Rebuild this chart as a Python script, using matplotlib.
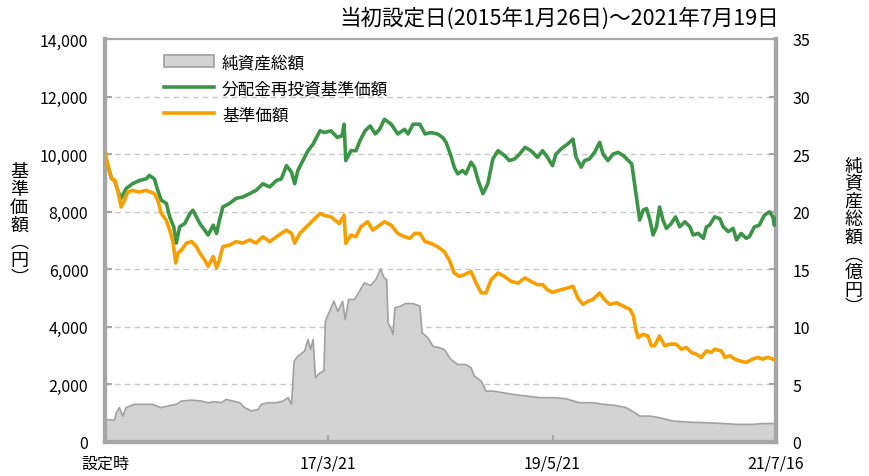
import matplotlib
matplotlib.use("Agg")
import matplotlib.pyplot as plt
from matplotlib.patches import Patch
from matplotlib.lines import Line2D
import pandas as pd

plt.rcParams['font.family'] = ['Noto Sans CJK JP', 'DejaVu Sans']

# data
nav_dates = [
    "2015-01-26", "2015-02-07", "2015-02-18", "2015-03-01", "2015-03-12", "2015-03-24", "2015-04-05", "2015-04-16",
    "2015-05-03", "2015-05-27", "2015-06-20", "2015-07-07", "2015-07-19", "2015-07-31", "2015-08-12", "2015-08-30",
    "2015-09-11", "2015-09-23", "2015-10-02", "2015-10-10", "2015-10-22", "2015-11-09", "2015-11-27", "2015-12-14",
    "2015-12-26", "2016-01-12", "2016-01-24", "2016-02-11", "2016-02-23", "2016-03-04", "2016-03-16", "2016-04-09",
    "2016-05-02", "2016-05-25", "2016-06-18", "2016-07-11", "2016-08-04", "2016-08-28", "2016-09-21", "2016-10-08",
    "2016-10-26", "2016-11-13", "2016-11-24", "2016-12-12", "2017-01-05", "2017-01-28", "2017-02-21", "2017-03-09",
    "2017-04-01", "2017-04-30", "2017-05-17", "2017-05-23", "2017-06-10", "2017-06-28", "2017-07-15", "2017-08-08",
    "2017-08-26", "2017-09-19", "2017-10-06", "2017-10-30", "2017-11-22", "2017-12-16", "2018-01-04", "2018-01-21",
    "2018-02-08", "2018-02-26", "2018-03-19", "2018-04-11", "2018-05-05", "2018-05-22", "2018-06-09", "2018-06-27",
    "2018-07-14", "2018-08-07", "2018-08-25", "2018-09-12", "2018-09-29", "2018-10-17", "2018-11-10", "2018-12-03",
    "2018-12-26", "2019-01-20", "2019-02-13", "2019-03-06", "2019-03-29", "2019-04-16", "2019-05-03", "2019-05-21",
    "2019-06-20", "2019-07-13", "2019-08-01", "2019-08-18", "2019-09-05", "2019-09-23", "2019-10-10", "2019-11-03",
    "2019-11-20", "2019-12-08", "2020-01-02", "2020-01-25", "2020-02-18", "2020-03-01", "2020-03-09", "2020-03-17",
    "2020-04-04", "2020-04-21", "2020-05-03", "2020-05-14", "2020-06-01", "2020-06-19", "2020-07-06", "2020-07-29",
    "2020-08-17", "2020-09-03", "2020-09-21", "2020-10-08", "2020-10-26", "2020-11-13", "2020-11-30", "2020-12-12",
    "2021-01-04", "2021-01-17", "2021-02-04", "2021-02-21", "2021-03-09", "2021-04-02", "2021-04-25", "2021-05-13",
    "2021-05-30", "2021-06-17", "2021-07-05", "2021-07-16"]
nav_values = [
    10000, 9545, 9150, 9090, 8740, 8165, 8400, 8680,
    8740, 8680, 8740, 8680, 8630, 8400, 7950, 7700,
    7360, 6910, 6220, 6560, 6670, 6910, 6960, 6785,
    6560, 6330, 6100, 6440, 6050, 6330, 6785, 6840,
    6960, 6910, 7020, 6910, 7130, 6960, 7130, 7245,
    7360, 7245, 6910, 7245, 7475, 7700, 7935, 7870,
    7820, 7590, 7880, 6900, 7190, 7130, 7475, 7650,
    7360, 7530, 7650, 7530, 7245, 7130, 7075, 7245,
    7245, 6960, 6900, 6785, 6610, 6330, 5870, 5750,
    5810, 5920, 5520, 5180, 5180, 5640, 5870, 5750,
    5580, 5520, 5700, 5580, 5465, 5465, 5290, 5200,
    5290, 5350, 5410, 5010, 4780, 4890, 4950, 5180,
    4950, 4780, 4835, 4720, 4605, 4375, 3915, 3630,
    3740, 3680, 3340, 3340, 3680, 3340, 3400, 3400,
    3225, 3280, 3110, 3050, 2940, 3165, 3110, 3225,
    3165, 2940, 2995, 2880, 2820, 2765, 2880, 2940,
    2880, 2940, 2880, 2820]

reinv_dates = [
    "2015-01-26", "2015-02-07", "2015-02-18", "2015-03-01", "2015-03-12", "2015-03-24", "2015-04-10", "2015-05-03",
    "2015-05-27", "2015-06-20", "2015-07-01", "2015-07-19", "2015-07-31", "2015-08-12", "2015-08-30", "2015-09-11",
    "2015-09-25", "2015-10-04", "2015-10-16", "2015-11-03", "2015-11-21", "2015-12-02", "2015-12-14", "2015-12-26",
    "2016-01-12", "2016-01-24", "2016-02-11", "2016-02-23", "2016-03-04", "2016-03-16", "2016-04-09", "2016-05-02",
    "2016-05-25", "2016-06-18", "2016-07-11", "2016-08-04", "2016-08-28", "2016-09-21", "2016-10-08", "2016-10-26",
    "2016-11-13", "2016-11-24", "2016-12-05", "2016-12-23", "2017-01-10", "2017-01-28", "2017-02-21", "2017-03-09",
    "2017-04-01", "2017-04-23", "2017-05-10", "2017-05-17", "2017-05-23", "2017-06-10", "2017-06-28", "2017-07-12",
    "2017-07-30", "2017-08-17", "2017-09-04", "2017-09-19", "2017-10-06", "2017-10-30", "2017-11-22", "2017-12-16",
    "2017-12-28", "2018-01-15", "2018-02-08", "2018-02-26", "2018-03-19", "2018-04-11", "2018-04-29", "2018-05-11",
    "2018-05-28", "2018-06-09", "2018-06-21", "2018-07-08", "2018-07-20", "2018-08-07", "2018-08-19", "2018-09-01",
    "2018-09-18", "2018-10-05", "2018-10-23", "2018-11-10", "2018-12-03", "2018-12-20", "2019-01-08", "2019-01-25",
    "2019-02-13", "2019-03-06", "2019-03-29", "2019-04-16", "2019-05-03", "2019-05-21", "2019-06-02", "2019-06-20",
    "2019-07-13", "2019-08-01", "2019-08-12", "2019-08-30", "2019-09-11", "2019-09-28", "2019-10-16", "2019-11-03",
    "2019-11-15", "2019-12-02", "2019-12-20", "2020-01-07", "2020-01-25", "2020-02-12", "2020-02-24", "2020-03-05",
    "2020-03-13", "2020-03-23", "2020-04-04", "2020-04-16", "2020-04-28", "2020-05-09", "2020-05-21", "2020-06-01",
    "2020-06-13", "2020-06-25", "2020-07-12", "2020-07-27", "2020-08-11", "2020-08-29", "2020-09-16", "2020-09-27",
    "2020-10-15", "2020-11-02", "2020-11-13", "2020-11-24", "2020-12-12", "2020-12-30", "2021-01-11", "2021-01-29",
    "2021-02-15", "2021-02-27", "2021-03-15", "2021-04-02", "2021-04-13", "2021-05-01", "2021-05-18", "2021-06-05",
    "2021-06-23", "2021-07-05", "2021-07-10", "2021-07-16"]
reinv_values = [
    10000, 9545, 9150, 9090, 8740, 8465, 8800, 8970,
    9085, 9140, 9260, 9140, 8740, 8400, 8290, 7820,
    7475, 6910, 7475, 7590, 7935, 8050, 7820, 7590,
    7360, 7190, 7530, 7245, 7700, 8165, 8290, 8465,
    8510, 8625, 8740, 8970, 8860, 9085, 9140, 9600,
    9370, 8970, 9430, 9775, 10120, 10350, 10810, 10750,
    10810, 10580, 10640, 11040, 9775, 10120, 10120, 10470,
    10810, 10980, 10700, 10860, 11210, 11040, 10700, 10860,
    10700, 11040, 11040, 10700, 10750, 10700, 10580, 10410,
    9950, 9545, 9315, 9430, 9315, 9720, 9545, 9085,
    8625, 8970, 9835, 10120, 9950, 9775, 9835, 10000,
    10235, 10120, 9890, 10120, 9890, 9600, 10000, 10180,
    10350, 10520, 9890, 9545, 9775, 9830, 10060, 10410,
    10000, 9775, 10000, 10060, 9950, 9775, 9660, 8970,
    8400, 7710, 8050, 8110, 7710, 7190, 7475, 8165,
    7710, 7420, 7590, 7820, 7475, 7650, 7475, 7190,
    7250, 7075, 7475, 7530, 7820, 7760, 7475, 7305,
    7420, 7020, 7245, 7075, 7130, 7475, 7530, 7880,
    7995, 7820, 7530, 7760]

aum_dates = [
    "2015-01-26", "2015-03-01", "2015-03-07", "2015-03-18", "2015-03-30", "2015-04-10", "2015-05-09", "2015-06-13",
    "2015-07-12", "2015-08-12", "2015-09-04", "2015-10-04", "2015-10-22", "2015-11-27", "2016-01-01", "2016-01-24",
    "2016-02-17", "2016-03-11", "2016-03-28", "2016-04-21", "2016-05-15", "2016-06-01", "2016-06-25", "2016-07-18",
    "2016-07-30", "2016-08-23", "2016-09-21", "2016-10-14", "2016-11-01", "2016-11-13", "2016-11-22", "2016-12-05",
    "2016-12-29", "2017-01-10", "2017-01-19", "2017-01-28", "2017-02-05", "2017-02-21", "2017-03-07", "2017-03-12",
    "2017-03-27", "2017-04-11", "2017-04-25", "2017-05-12", "2017-05-21", "2017-06-02", "2017-06-22", "2017-07-10",
    "2017-07-27", "2017-08-19", "2017-09-06", "2017-09-23", "2017-10-05", "2017-10-14", "2017-10-19", "2017-10-28",
    "2017-11-05", "2017-11-12", "2017-12-02", "2017-12-19", "2018-01-15", "2018-02-08", "2018-02-16", "2018-03-08",
    "2018-03-26", "2018-04-18", "2018-05-05", "2018-05-28", "2018-06-21", "2018-07-20", "2018-08-07", "2018-08-19",
    "2018-09-12", "2018-09-29", "2018-10-23", "2018-11-27", "2019-01-02", "2019-02-18", "2019-04-05", "2019-05-21",
    "2019-07-07", "2019-08-23", "2019-10-10", "2019-11-15", "2019-12-20", "2020-02-05", "2020-03-05", "2020-03-23",
    "2020-04-28", "2020-06-01", "2020-07-17", "2020-09-03", "2020-11-02", "2020-12-30", "2021-02-27", "2021-04-25",
    "2021-05-30", "2021-07-16"]
aum_values = [
    1.95, 1.9, 2.55, 2.98, 2.25, 2.98, 3.27, 3.27,
    3.27, 2.98, 3.12, 3.27, 3.55, 3.64, 3.55, 3.41,
    3.5, 3.41, 3.7, 3.55, 3.41, 2.98, 2.69, 2.83,
    3.27, 3.41, 3.41, 3.55, 3.85, 3.27, 7.02, 7.45,
    7.89, 8.9, 8.03, 8.9, 5.58, 6.01, 6.15, 10.49,
    11.35, 12.22, 11.35, 12.22, 10.63, 12.37, 12.37, 13.09,
    13.81, 13.6, 14.1, 15.03, 14.25, 14.1, 10.35, 9.91,
    9.33, 11.65, 11.8, 12.02, 12.02, 11.8, 9.48, 9.05,
    8.32, 8.18, 8.03, 7.17, 6.73, 6.73, 6.45, 5.72,
    5.29, 4.42, 4.42, 4.28, 4.13, 3.99, 3.85, 3.85,
    3.76, 3.41, 3.41, 3.27, 3.2, 2.98, 2.55, 2.25,
    2.25, 2.11, 1.82, 1.73, 1.68, 1.62, 1.53, 1.53,
    1.6, 1.6]

xtick_dates = ["2015-01-26", "2017-03-21", "2019-05-21", "2021-07-16"]
xtick_labels = ["設定時", "17/3/21", "19/5/21", "21/7/16"]
left_ticks = [0, 2000, 4000, 6000, 8000, 10000, 12000, 14000]
right_ticks = [0, 5, 10, 15, 20, 25, 30, 35]

title = "当初設定日(2015年1月26日)～2021年7月19日"
legend_labels = ["純資産総額", "分配金再投資基準価額", "基準価額"]

# colors
bg_color = "#FFFFCC"
area_color = "#D3D3D3"
area_edge = "#A0A0A0"
green = "#3C9446"
orange = "#F5A000"
spine_color = "#A6A6A6"

nav_x = pd.to_datetime(nav_dates)
reinv_x = pd.to_datetime(reinv_dates)
aum_x = pd.to_datetime(aum_dates)

fig = plt.figure(figsize=(8.69, 4.77), dpi=100)
ax = fig.add_axes([0.1208, 0.0713, 0.7722, 0.8449])
ax2 = ax.twinx()

# right axis carries background, grid and the area; left axis lines drawn on top
ax.set_zorder(ax2.get_zorder() + 1)
ax.patch.set_visible(False)
ax2.set_facecolor(bg_color)

ax2.set_ylim(0, 35)
ax2.set_yticks(right_ticks)
for v in right_ticks[1:-1]:
    ax2.axhline(v, color="#C8C8C8", ls=(0, (4, 3)), lw=1.0, zorder=0)
ax2.fill_between(aum_x, 0, aum_values, color=area_color, zorder=2, lw=0)
ax2.plot(aum_x, aum_values, color=area_edge, lw=1.2, zorder=3)

ax.plot(reinv_x, reinv_values, color=green, lw=2.6, zorder=4)
ax.plot(nav_x, nav_values, color=orange, lw=2.6, zorder=5)

ax.set_ylim(0, 14000)
ax.set_yticks(left_ticks)
ax.set_yticklabels([f"{v:,}" for v in left_ticks])
ax.set_xlim(pd.Timestamp(xtick_dates[0]), pd.Timestamp(xtick_dates[-1]))
ax.set_xticks(pd.to_datetime(xtick_dates))
ax.set_xticklabels(xtick_labels)

for a in (ax, ax2):
    for s in a.spines.values():
        s.set_color(spine_color)
    a.spines["left"].set_linewidth(3)
    a.spines["bottom"].set_linewidth(3)
    a.spines["right"].set_linewidth(3)
    a.spines["top"].set_linewidth(1.5)
    a.tick_params(direction="in", length=5, width=1.5, color=spine_color, labelsize=11.5, pad=12)

ax.tick_params(axis="x", pad=9)

# vertical axis titles
ax.text(-0.128, 0.54, "基\n準\n価\n額\n︵\n円\n︶", transform=ax.transAxes, fontsize=13,
        ha="center", va="center", linespacing=0.98)
ax.text(1.115, 0.51, "純\n資\n産\n総\n額\n︵\n億\n円\n︶", transform=ax.transAxes, fontsize=13,
        ha="center", va="center", linespacing=0.98)

fig.text(0.897, 0.962, title, fontsize=15.5, ha="right", va="center")

handles = [Patch(facecolor=area_color, edgecolor=area_edge, lw=1.2),
           Line2D([], [], color=green, lw=2.6),
           Line2D([], [], color=orange, lw=2.6)]
ax.legend(handles, legend_labels, loc="upper left", bbox_to_anchor=(0.065, 1.0), frameon=False,
          fontsize=12, handlelength=3.0, handletextpad=0.5, labelspacing=0.55)

fig.savefig("out.png", dpi=100)
